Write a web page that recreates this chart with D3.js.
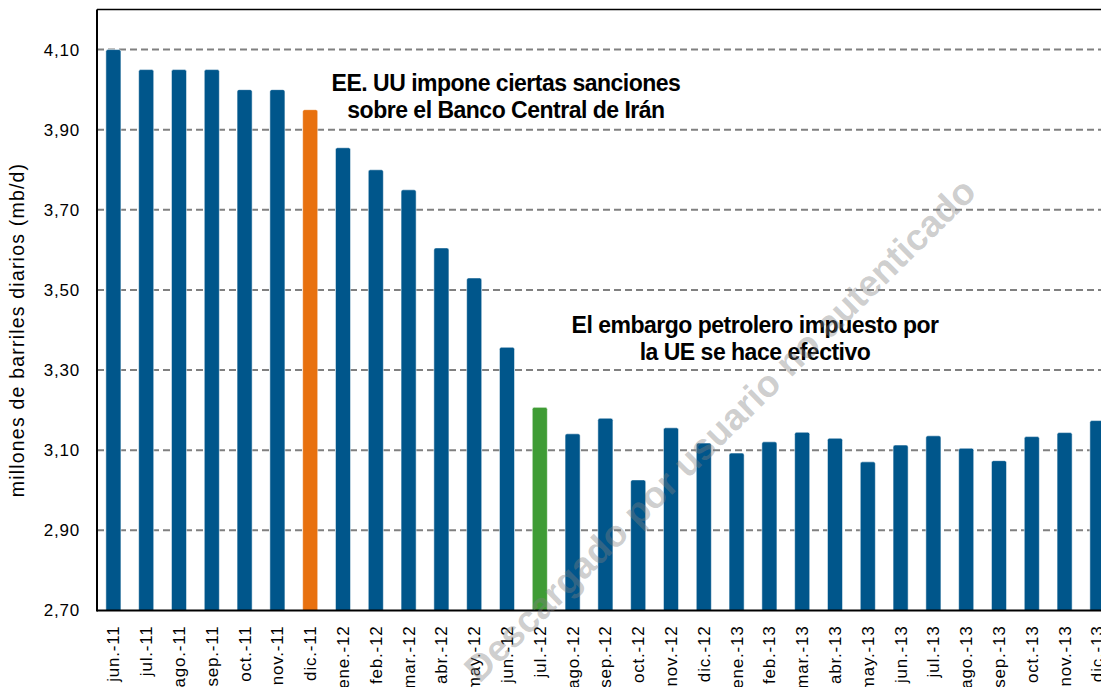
<!DOCTYPE html>
<html><head><meta charset="utf-8">
<script src="https://cdn.jsdelivr.net/npm/d3@7"></script>
<style>body{margin:0;background:#fff}svg{display:block}</style>
</head><body>
<svg id="c" width="1101" height="687"></svg>
<script>
const categories = ["jun.-11","jul.-11","ago.-11","sep.-11","oct.-11","nov.-11","dic.-11",
  "ene.-12","feb.-12","mar.-12","abr.-12","may.-12","jun.-12","jul.-12","ago.-12","sep.-12",
  "oct.-12","nov.-12","dic.-12","ene.-13","feb.-13","mar.-13","abr.-13","may.-13","jun.-13",
  "jul.-13","ago.-13","sep.-13","oct.-13","nov.-13","dic.-13"];
const values = [4.10,4.05,4.05,4.05,4.00,4.00,3.95,
  3.855,3.80,3.75,3.605,3.53,3.357,3.207,3.141,3.180,
  3.026,3.156,3.118,3.093,3.121,3.145,3.130,3.071,3.113,
  3.136,3.105,3.074,3.134,3.144,3.174];
const yTicks = [2.70,2.90,3.10,3.30,3.50,3.70,3.90,4.10];
const yTickLabels = ["2,70","2,90","3,10","3,30","3,50","3,70","3,90","4,10"];
const yTitle = "millones de barriles  diarios (mb/d)";
const note1 = ["EE. UU impone ciertas sanciones","sobre el Banco Central de Irán"];
const note2 = ["El embargo petrolero impuesto por","la UE se hace efectivo"];
const watermark = "Descargado por usuario no autenticado";

const svg = d3.select("#c");
const L = 97, T = 9.5, B = 610.5, STEP = 32.8;
const x = d3.scaleBand().domain(categories).range([L, L + categories.length*STEP])
  .paddingInner(0.54).paddingOuter(0.27);
const y = d3.scaleLinear().domain([2.70, 4.20]).range([B, T]);
const colorOf = c => c === "dic.-11" ? "#E8710F" : (c === "jul.-12" ? "#3F9C35" : "#00568B");

// gridlines
svg.append("g").selectAll("line").data(yTicks.slice(1)).join("line")
  .attr("x1", L).attr("x2", 1101).attr("y1", d => y(d)).attr("y2", d => y(d))
  .attr("stroke", "#808080").attr("stroke-width", 2).attr("stroke-dasharray", "7,4");

// bars
const data = categories.map((c,i) => ({c, v: values[i]}));
svg.append("g").selectAll("path").data(data).join("path")
  .attr("d", d => {
    const x0 = x(d.c), w = x.bandwidth(), y0 = y(d.v), r = 2;
    return `M${x0},${B}V${y0+r}Q${x0},${y0} ${x0+r},${y0}H${x0+w-r}Q${x0+w},${y0} ${x0+w},${y0+r}V${B}Z`;
  })
  .attr("fill", d => colorOf(d.c))
  .attr("stroke", "rgba(255,255,255,0.55)").attr("stroke-width", 1);

// plot border top
svg.append("line").attr("x1", L).attr("x2", 1101).attr("y1", T).attr("y2", T)
  .attr("stroke", "#000").attr("stroke-width", 1.5);

// y axis
const ya = svg.append("g").attr("transform", `translate(${L},0)`)
  .call(d3.axisLeft(y).tickValues(yTicks).tickFormat((d,i) => yTickLabels[i]).tickSize(0).tickPadding(17));
ya.select(".domain").remove();
ya.selectAll("text").attr("font-family", "Liberation Sans, Arial, sans-serif")
  .attr("font-size", 17).attr("fill", "#000").style("letter-spacing", "0.8px");

// x axis
const xa = svg.append("g").attr("transform", `translate(0,${B})`)
  .call(d3.axisBottom(x).tickSize(0));
xa.select(".domain").remove();
xa.selectAll("text")
  .attr("font-family", "Liberation Sans, Arial, sans-serif").attr("font-size", 17)
  .attr("fill", "#000").style("letter-spacing", "0.8px")
  .attr("text-anchor", "end").attr("dy", null)
  .attr("transform", "rotate(-90)").attr("x", -15).attr("y", 0).attr("dy", "0.35em");

// axis lines
svg.append("line").attr("x1", L).attr("x2", L).attr("y1", T).attr("y2", B+1)
  .attr("stroke", "#000").attr("stroke-width", 2);
svg.append("line").attr("x1", L).attr("x2", 1101).attr("y1", B).attr("y2", B)
  .attr("stroke", "#000").attr("stroke-width", 2);

// y title
svg.append("text").attr("transform", "translate(24,330) rotate(-90)")
  .attr("text-anchor", "middle").attr("font-family", "Liberation Sans, Arial, sans-serif")
  .attr("font-size", 19.5).style("letter-spacing", "1.2px").attr("fill", "#000")
  .text(yTitle);

// annotations
function note(lines, cx, by) {
  const t = svg.append("text").attr("text-anchor", "middle")
    .attr("font-family", "Liberation Sans, Arial, sans-serif").attr("font-weight", "bold")
    .attr("font-size", 23).style("letter-spacing", "-0.5px").attr("fill", "#000");
  lines.forEach((s,i) => t.append("tspan").attr("x", cx).attr("y", by + i*27).text(s));
}
note(note1, 506, 90.5);
note(note2, 755, 333);

// watermark
svg.append("text").attr("transform", "translate(720,430) rotate(-44.5)")
  .attr("text-anchor", "middle").attr("dominant-baseline", "central")
  .attr("font-family", "Liberation Sans, Arial, sans-serif").attr("font-weight", "bold")
  .attr("font-size", 37).attr("fill", "#808080").attr("fill-opacity", 0.4)
  .text(watermark);
</script>
</body></html>
